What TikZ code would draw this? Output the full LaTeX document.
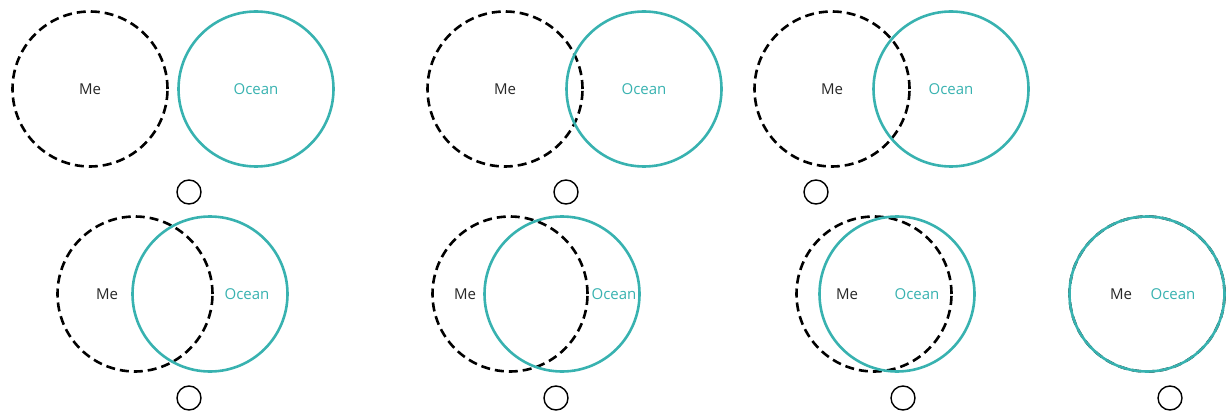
\documentclass[tikz,border=0pt]{standalone}
\usepackage{fontspec}
\setmainfont{Open Sans}
\definecolor{oceanteal}{RGB}{56,178,176}

\begin{document}
\begin{tikzpicture}[
        x=1pt, y=-1pt,
        me/.style={draw=black, circle, dashed, dash pattern=on 9pt off 5pt, line width=2.6pt, minimum size=155pt, inner sep=0pt},
        ocean/.style={draw=oceanteal, circle, line width=2.6pt, minimum size=155pt, inner sep=0pt},
        mark circle/.style={draw=black, circle, line width=1.4pt, minimum size=24pt, inner sep=0pt},
        melabel/.style={font=\fontsize{15}{18}\selectfont, text=black!85},
        oceanlabel/.style={font=\fontsize{15}{18}\selectfont, text=oceanteal}
    ]
        \useasboundingbox (0,0) rectangle (1228,414);

        % top row
        \node[me] (me_a) at (90, 89) {};
        \node[ocean] (ocean_a) at (256, 89) {};
        \node[melabel] (me_a_txt) at (90, 89) {Me};
        \node[oceanlabel] (ocean_a_txt) at (256, 89) {Ocean};
        \node[mark circle] (mark_a) at (189, 192) {};

        \node[me] (me_b) at (505, 89) {};
        \node[ocean] (ocean_b) at (644, 89) {};
        \node[melabel] (me_b_txt) at (505, 89) {Me};
        \node[oceanlabel] (ocean_b_txt) at (644, 89) {Ocean};
        \node[mark circle] (mark_b) at (566, 192) {};

        \node[me] (me_c) at (832, 89) {};
        \node[ocean] (ocean_c) at (951, 89) {};
        \node[melabel] (me_c_txt) at (832, 89) {Me};
        \node[oceanlabel] (ocean_c_txt) at (951, 89) {Ocean};
        \node[mark circle] (mark_c) at (816, 192) {};

        % bottom row
        \node[me] (me_d) at (135, 294) {};
        \node[ocean] (ocean_d) at (210, 294) {};
        \node[melabel] (me_d_txt) at (107, 294) {Me};
        \node[oceanlabel] (ocean_d_txt) at (247, 294) {Ocean};
        \node[mark circle] (mark_d) at (189, 398) {};

        \node[me] (me_e) at (510, 294) {};
        \node[ocean] (ocean_e) at (562, 294) {};
        \node[melabel] (me_e_txt) at (465, 294) {Me};
        \node[oceanlabel] (ocean_e_txt) at (614, 294) {Ocean};
        \node[mark circle] (mark_e) at (556, 398) {};

        \node[me] (me_f) at (874, 294) {};
        \node[ocean] (ocean_f) at (897, 294) {};
        \node[melabel] (me_f_txt) at (847, 294) {Me};
        \node[oceanlabel] (ocean_f_txt) at (917, 294) {Ocean};
        \node[mark circle] (mark_f) at (903, 398) {};

        \node[me] (me_g) at (1147, 294) {};
        \node[ocean] (ocean_g) at (1147, 294) {};
        \node[melabel] (me_g_txt) at (1121, 294) {Me};
        \node[oceanlabel] (ocean_g_txt) at (1173, 294) {Ocean};
        \node[mark circle] (mark_g) at (1170, 398) {};

    \end{tikzpicture}
\end{document}
